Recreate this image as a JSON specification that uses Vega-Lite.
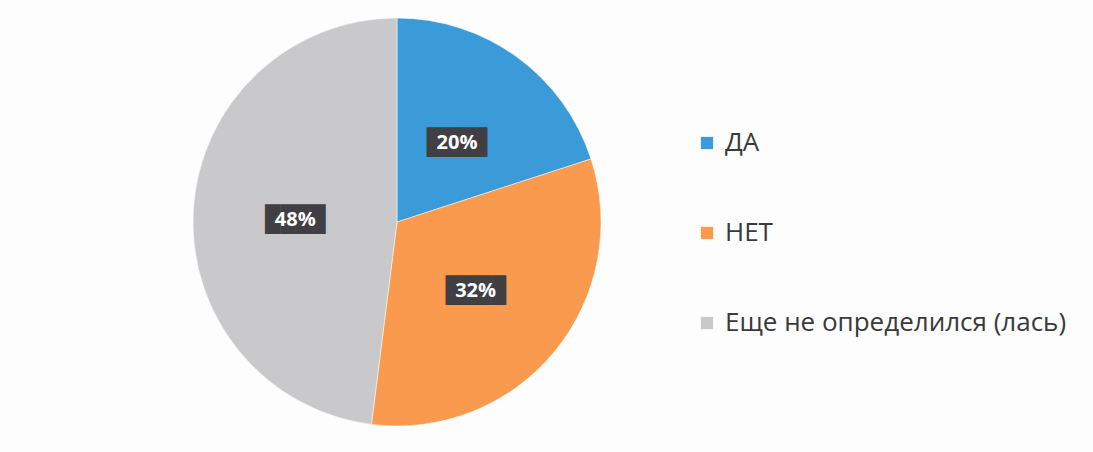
{
  "$schema": "https://vega.github.io/schema/vega-lite/v6.json",
  "width": 794,
  "height": 444,
  "padding": {"left": 0, "top": 0, "right": 299, "bottom": 8},
  "autosize": {"type": "none"},
  "background": "#fdfdfd",
  "config": {"view": {"stroke": null}},
  "data": {
    "values": [
      {"cat": "ДА", "value": 20, "label": "20%", "idx": 1},
      {"cat": "НЕТ", "value": 32, "label": "32%", "idx": 2},
      {"cat": "Еще не определился (лась)", "value": 48, "label": "48%", "idx": 3}
    ]
  },
  "encoding": {
    "theta": {"field": "value", "type": "quantitative", "stack": true},
    "order": {"field": "idx", "type": "quantitative"}
  },
  "layer": [
    {
      "mark": {"type": "arc", "outerRadius": 204, "stroke": "#ffffff", "strokeWidth": 0.5},
      "encoding": {
        "color": {
          "field": "cat",
          "type": "nominal",
          "sort": null,
          "scale": {
            "domain": ["ДА", "НЕТ", "Еще не определился (лась)"],
            "range": ["#3b9bd8", "#f99a4e", "#c9c9cb"]
          },
          "legend": {
            "title": null,
            "orient": "none",
            "legendX": 694,
            "legendY": 130,
            "symbolType": "square",
            "symbolSize": 150,
            "symbolStrokeWidth": 0,
            "labelFont": "Open Sans",
            "labelFontSize": 26,
            "labelColor": "#3a3a3a",
            "labelOffset": 5,
            "rowPadding": 64,
            "labelLimit": 500
          }
        }
      }
    },
    {
      "mark": {"type": "text", "radius": 102, "dy": 4, "font": "DejaVu Sans Mono", "fontSize": 25, "baseline": "middle", "align": "center", "fill": "#3f3f44"},
      "encoding": {"text": {"value": "████"}}
    },
    {
      "mark": {"type": "text", "radius": 102, "dy": 4, "font": "Open Sans", "fontWeight": "bold", "fontSize": 20, "baseline": "middle", "align": "center", "fill": "#ffffff"},
      "encoding": {"text": {"field": "label", "type": "nominal"}}
    }
  ]
}
